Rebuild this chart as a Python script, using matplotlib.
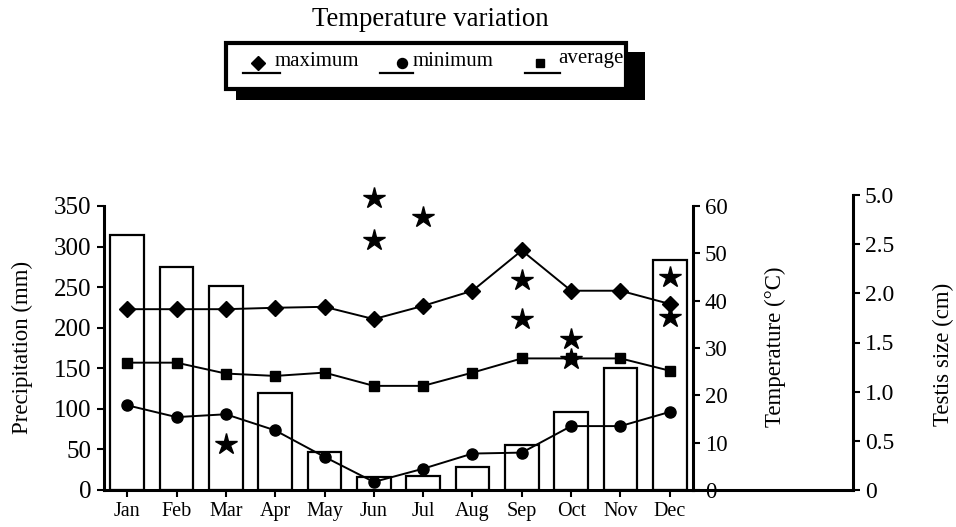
import numpy as np
import matplotlib
matplotlib.use("Agg")
import matplotlib.pyplot as plt
import matplotlib.transforms as mtransforms
from matplotlib.patches import Rectangle
from matplotlib.lines import Line2D

plt.rcParams['font.family'] = ['Liberation Serif', 'DejaVu Serif']

months = ['Jan', 'Feb', 'Mar', 'Apr', 'May', 'Jun',
          'Jul', 'Aug', 'Sep', 'Oct', 'Nov', 'Dec']
precip = [314, 275, 252, 120, 47, 16, 17, 28, 55, 96, 150, 284]
t_max = [38.2, 38.2, 38.2, 38.5, 38.7, 36.1, 38.9, 42.1, 50.6, 42.1, 42.1, 39.3]
t_min = [17.9, 15.4, 16.0, 12.6, 7.0, 1.7, 4.5, 7.7, 7.9, 13.5, 13.5, 16.5]
t_avg = [26.9, 26.9, 24.6, 24.1, 24.8, 22.0, 22.0, 24.8, 27.8, 27.8, 27.8, 25.2]

# testis size readings (month index, cm)
testis_month = [2, 5, 5, 6, 8, 8, 9, 9, 11, 11]
testis_size = [0.47, 4.85, 2.73, 3.9, 2.14, 1.74, 1.54, 1.33, 2.17, 1.76]

prec_ticks = [0, 50, 100, 150, 200, 250, 300, 350]
temp_ticks = [0, 10, 20, 30, 40, 50, 60]
testis_ticks = [0, 0.5, 1.0, 1.5, 2.0, 2.5, 5.0]
testis_labels = ['0', '0.5', '1.0', '1.5', '2.0', '2.5', '5.0']

W, H = 956, 527
fig = plt.figure(figsize=(W / 100, H / 100), dpi=100)


def box(x0, y0, x1, y1):
    return [x0 / W, 1 - y1 / H, (x1 - x0) / W, (y1 - y0) / H]


x = np.arange(len(months))

ax1 = fig.add_axes(box(104, 206, 693, 490))
ax1.bar(x, precip, width=0.68, facecolor='white', edgecolor='black', linewidth=1.6)
ax1.set_xlim(-0.47, 11.47)
ax1.set_ylim(0, 350)
ax1.set_yticks(prec_ticks)
ax1.set_xticks(x)
ax1.set_xticklabels(months, fontsize=14.5)
ax1.tick_params(axis='y', labelsize=18, width=1.5, length=5, pad=4)
ax1.tick_params(axis='x', width=1.5, length=5)
for s in ['top', 'right']:
    ax1.spines[s].set_visible(False)
for s in ['left', 'bottom']:
    ax1.spines[s].set_linewidth(2.2)

ax2 = ax1.twinx()
ax2.set_ylim(0, 60)
ax2.set_yticks(temp_ticks)
ax2.tick_params(axis='y', labelsize=16.5, width=1.5, length=5)
for s in ['top', 'left', 'bottom']:
    ax2.spines[s].set_visible(False)
ax2.spines['right'].set_linewidth(2.2)
ax2.plot(x, t_max, color='black', lw=1.4, marker='D', ms=8)
ax2.plot(x, t_min, color='black', lw=1.4, marker='o', ms=8)
ax2.plot(x, t_avg, color='black', lw=1.4, marker='s', ms=7)


def fwd(v):
    v = np.asarray(v, dtype=float)
    return np.where(v <= 2.5, v, 2.5 + (v - 2.5) * 0.2)


def inv(v):
    v = np.asarray(v, dtype=float)
    return np.where(v <= 2.5, v, 2.5 + (v - 2.5) / 0.2)


ax3 = fig.add_axes(box(693, 195, 853, 490))
ax3.patch.set_visible(False)
ax3.set_yscale('function', functions=(fwd, inv))
ax3.set_ylim(0, 5.0)
ax3.set_xticks([])
ax3.yaxis.tick_right()
ax3.set_yticks(testis_ticks)
ax3.set_yticklabels(testis_labels)
ax3.yaxis.set_minor_locator(matplotlib.ticker.NullLocator())
ax3.tick_params(axis='y', labelsize=17, width=1.5, length=5)
for s in ['top', 'left']:
    ax3.spines[s].set_visible(False)
ax3.spines['right'].set_linewidth(2.2)
ax3.spines['bottom'].set_linewidth(2.2)

# stars: month positions from ax1, size from the testis axis
trans = mtransforms.blended_transform_factory(ax1.transData, ax3.transData)
ax1.plot(testis_month, testis_size, linestyle='none', marker='*', ms=16,
         color='black', transform=trans, clip_on=False, zorder=5)

# axis titles
fig.text(22 / W, 1 - 347 / H, 'Precipitation (mm)', fontsize=16.5,
         rotation=90, ha='center', va='center')
fig.text(775 / W, 1 - 347 / H, 'Temperature (°C)', fontsize=16.5,
         rotation=90, ha='center', va='center')
fig.text(943 / W, 1 - 354 / H, 'Testis size (cm)', fontsize=16.5,
         rotation=90, ha='center', va='center')

# legend box with shadow
fig.text(430 / W, 1 - 20 / H, 'Temperature variation', fontsize=19.3,
         ha='center', va='center')
fig.patches.append(Rectangle((236 / W, 1 - 100 / H), 409 / W, 48 / H,
                             transform=fig.transFigure, facecolor='black',
                             edgecolor='none', zorder=1))
fig.patches.append(Rectangle((226 / W, 1 - 89 / H), 400 / W, 46 / H,
                             transform=fig.transFigure, facecolor='white',
                             edgecolor='black', linewidth=3, zorder=2))
entries = [('D', 'maximum', 243, 280, 258, 275, 8, 62),
           ('o', 'minimum', 380, 413, 402, 413, 8, 62),
           ('s', 'average', 525, 560, 540, 558, 7, 58)]
for mk, name, lx0, lx1, mx, tx, ms, ty in entries:
    fig.lines.append(Line2D([lx0 / W, lx1 / W], [1 - 73 / H, 1 - 73 / H],
                            transform=fig.transFigure, color='black', lw=1.6,
                            zorder=3))
    fig.lines.append(Line2D([mx / W], [1 - 63 / H], marker=mk, ms=ms * 0.9,
                            color='black', transform=fig.transFigure, zorder=3))
    fig.text(tx / W, 1 - ty / H, name, fontsize=15, ha='left', va='center',
             zorder=4)

fig.savefig('out.png', dpi=100)
